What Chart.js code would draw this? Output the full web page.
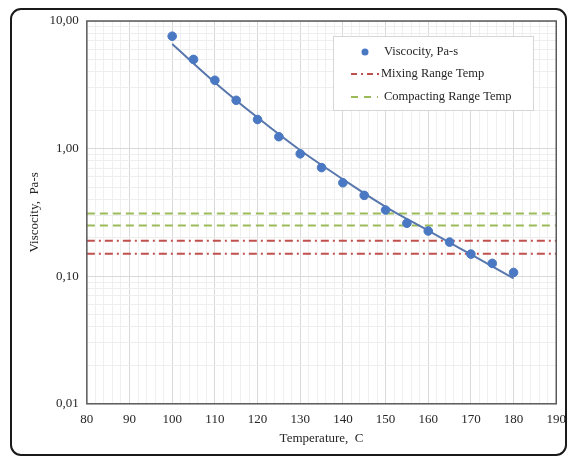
<!DOCTYPE html>
<html>
<head>
<meta charset="utf-8">
<script src="https://cdn.jsdelivr.net/npm/chart.js@4.4.1/dist/chart.umd.min.js"></script>
<style>
  html, body { margin: 0; padding: 0; background: #fff; }
  #wrap { position: relative; width: 574px; height: 460px; }
  #frame {
    position: absolute; left: 10px; top: 8px; width: 557px; height: 448px;
    box-sizing: border-box; border: 2px solid #1a1a1a; border-radius: 11px;
    pointer-events: none;
  }
</style>
</head>
<body>
<div id="wrap">
  <canvas id="viscChart" width="574" height="460"></canvas>
  <div id="frame"></div>
</div>
<script>
// measured viscosity
const temps = [100, 105, 110, 115, 120, 125, 130, 135, 140, 145, 150, 155, 160, 165, 170, 175, 180];
const viscosity = [7.6, 5.0, 3.43, 2.39, 1.69, 1.24, 0.91, 0.71, 0.54, 0.43, 0.33, 0.26, 0.226, 0.185, 0.149, 0.126, 0.107];

// trend line
const trendTemps = [100, 110, 120, 130, 140, 150, 160, 170, 180];
const trendVisc = [6.6, 3.3, 1.75, 0.97, 0.575, 0.35, 0.228, 0.148, 0.096];

// range lines
const rangeX = [80, 190];
const mixingLimits = [0.19, 0.15];
const compactingLimits = [0.31, 0.25];

// axis ticks
const xMin = 80, xMax = 190, xMinorStep = 2, xMajorStep = 10;
const yMajorTicks = [0.01, 0.1, 1, 10];

const serif = '"Liberation Serif", "Times New Roman", serif';
const blue = '#4a78c2';
const trendColor = '#5878ad';
const red = '#c0504d';
const green = '#9bbb59';

function pts(xs, ys) { return xs.map((x, i) => ({ x: x, y: ys[i] })); }
function flat(v) { return rangeX.map(x => ({ x: x, y: v })); }

const datasets = [
  { label: 'Viscocity, Pa-s', data: pts(temps, viscosity), showLine: false,
    pointRadius: 4.3, pointBackgroundColor: blue, pointBorderColor: blue, order: 1 },
  { label: 'trend', data: pts(trendTemps, trendVisc), showLine: true,
    cubicInterpolationMode: 'monotone',
    borderColor: trendColor, borderWidth: 2, pointRadius: 0, order: 2 }
];
mixingLimits.forEach((v, i) => datasets.push({
  label: i === 0 ? 'Mixing Range Temp' : 'mix2', data: flat(v), showLine: true,
  borderColor: red, borderWidth: 2, borderDash: [8, 4, 2, 4], pointRadius: 0, order: 3
}));
compactingLimits.forEach((v, i) => datasets.push({
  label: i === 0 ? 'Compacting Range Temp' : 'comp2', data: flat(v), showLine: true,
  borderColor: green, borderWidth: 2, borderDash: [8, 5], pointRadius: 0, order: 3
}));

const plotFrame = {
  id: 'plotFrame',
  afterDatasetsDraw(chart) {
    const a = chart.chartArea, ctx = chart.ctx;
    ctx.save();
    ctx.strokeStyle = '#5a5a5a';
    ctx.lineWidth = 1.5;
    ctx.strokeRect(a.left, a.top, a.right - a.left, a.bottom - a.top);

    // legend box
    const bx = 333, by = 36, bw = 200, bh = 74;
    ctx.fillStyle = '#fff';
    ctx.fillRect(bx, by, bw, bh);
    ctx.strokeStyle = '#d6d6d6';
    ctx.lineWidth = 1;
    ctx.strokeRect(bx + 0.5, by + 0.5, bw, bh);

    ctx.font = '12.5px ' + serif;
    ctx.fillStyle = '#262626';
    ctx.textBaseline = 'middle';
    // scatter entry
    ctx.beginPath();
    ctx.arc(365, 52, 3.5, 0, Math.PI * 2);
    ctx.fillStyle = blue;
    ctx.fill();
    ctx.fillStyle = '#262626';
    ctx.fillText(datasets[0].label, 384, 52);
    // mixing entry
    ctx.lineWidth = 2;
    ctx.strokeStyle = red;
    ctx.setLineDash([6, 4, 2, 4]);
    ctx.beginPath(); ctx.moveTo(351, 74); ctx.lineTo(380, 74); ctx.stroke();
    ctx.fillText(datasets[2].label, 381, 74);
    // compacting entry
    ctx.strokeStyle = green;
    ctx.setLineDash([7, 6]);
    ctx.beginPath(); ctx.moveTo(351, 97); ctx.lineTo(378, 97); ctx.stroke();
    ctx.setLineDash([]);
    ctx.fillText(datasets[4].label, 384, 97);
    ctx.restore();
  }
};

new Chart(document.getElementById('viscChart'), {
  type: 'scatter',
  data: { datasets: datasets },
  options: {
    responsive: false,
    animation: false,
    layout: { padding: { left: 27, top: 21, right: 17, bottom: 14 } },
    plugins: { legend: { display: false }, tooltip: { enabled: false } },
    scales: {
      x: {
        type: 'linear', min: xMin, max: xMax,
        ticks: {
          stepSize: xMinorStep, autoSkip: false, maxRotation: 0, padding: 8,
          color: '#262626', font: { family: serif, size: 13 },
          callback: v => (v % xMajorStep === 0 ? String(v) : '')
        },
        grid: {
          drawTicks: false,
          color: c => (c.tick && c.tick.value % xMajorStep === 0 ? '#d9d9d9' : '#f0f0f0')
        },
        border: { display: false },
        title: { display: true, text: 'Temperature,  C', color: '#262626',
          font: { family: serif, size: 13 }, padding: { top: -5, bottom: 0 } }
      },
      y: {
        type: 'logarithmic', min: 0.01, max: 10,
        afterBuildTicks(scale) {
          const t = [];
          yMajorTicks.forEach((m, i) => {
            if (i === yMajorTicks.length - 1) { t.push({ value: m }); return; }
            for (let k = 1; k < 10; k++) t.push({ value: +(m * k).toPrecision(3) });
          });
          scale.ticks = t;
        },
        ticks: {
          autoSkip: false, padding: 8, color: '#262626',
          font: { family: serif, size: 13 },
          callback: v => (yMajorTicks.includes(v) ? v.toFixed(2).replace('.', ',') : '')
        },
        grid: {
          drawTicks: false,
          color: c => (c.tick && yMajorTicks.includes(c.tick.value) ? '#d9d9d9' : '#eeeeee')
        },
        border: { display: false },
        title: { display: true, text: 'Viscocity,  Pa-s', color: '#262626',
          font: { family: serif, size: 13 }, padding: { top: 0, bottom: -1 } }
      }
    }
  },
  plugins: [plotFrame]
});
</script>
</body>
</html>
